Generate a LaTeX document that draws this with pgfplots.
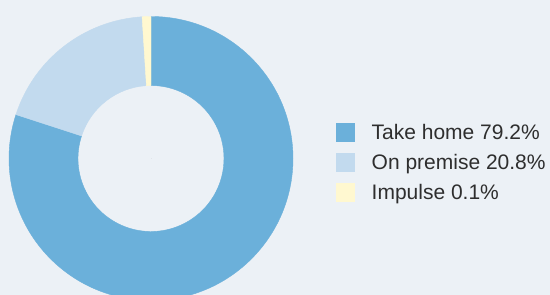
\documentclass[border=0pt]{standalone}
\usepackage{pgfplots}
\pgfplotsset{compat=1.18}
\usepackage{pgfplotstable}
\usepackage{fontspec}
\setmainfont{Liberation Sans}
\definecolor{bg}{HTML}{ECF1F6}
\definecolor{takehome}{HTML}{6BB0DA}
\definecolor{onpremise}{HTML}{C2DAEE}
\definecolor{impulse}{HTML}{FFF8D0}
\definecolor{txt}{HTML}{2E2E2E}

% donut slices: centre (cx,cy), share of circle before the slice, share of the slice (as drawn)
\pgfplotstableread{
cx cy before share
151 136.5 0 80
}\tabTake
\pgfplotstableread{
cx cy before share
151 136.5 80 19
}\tabPremise
\pgfplotstableread{
cx cy before share
151 136.5 99 1
}\tabImpulse

\pgfplotsset{
  donut slice/.style={
    scatter, only marks, forget plot,
    mark=*, mark size=0pt, mark options={draw=none, fill=none},
    visualization depends on={\thisrow{before} \as \sBefore},
    visualization depends on={\thisrow{share} \as \sShare},
    scatter/@pre marker code/.code={%
      \pgfmathsetmacro\aS{90-3.6*\sBefore}%
      \pgfmathsetmacro\aE{90-3.6*(\sBefore+\sShare)}%
      \fill[#1] (\aS:73pt) -- (\aS:142pt) arc[start angle=\aS, end angle=\aE, radius=142pt]
        -- (\aE:73pt) arc[start angle=\aE, end angle=\aS, radius=73pt] -- cycle;
    },
    scatter/@post marker code/.code={},
  }
}

\begin{document}
\begin{tikzpicture}
\clip (0,0) rectangle (550pt,295pt);
\fill[bg] (0,0) rectangle (550pt,295pt);
\begin{axis}[
  at={(0pt,0pt)}, anchor=origin,
  x=1pt, y=1pt, xmin=0, xmax=550, ymin=0, ymax=295,
  hide axis, clip=false,
  legend style={draw=none, fill=none, at={(axis cs:336,172.3)}, anchor=north west,
    inner sep=0pt, font=\fontsize{21}{24}\selectfont, text=txt, row sep=8.9pt,
    nodes={inner sep=0pt, text height=14.5pt, text depth=4.5pt, anchor=base west},
    /tikz/every odd column/.append style={column sep=16.5pt}},
  legend image code/.code={\fill[#1, draw=none] (0pt,-2.4pt) rectangle (19pt,16.6pt);},
]
\addplot[donut slice=takehome] table[x=cx, y=cy] {\tabTake};
\addplot[donut slice=onpremise] table[x=cx, y=cy] {\tabPremise};
\addplot[donut slice=impulse] table[x=cx, y=cy] {\tabImpulse};
\addlegendimage{fill=takehome, draw=none}
\addlegendentry{Take home 79.2\%}
\addlegendimage{fill=onpremise, draw=none}
\addlegendentry{On premise 20.8\%}
\addlegendimage{fill=impulse, draw=none}
\addlegendentry{Impulse 0.1\%}
\end{axis}
\end{tikzpicture}
\end{document}
